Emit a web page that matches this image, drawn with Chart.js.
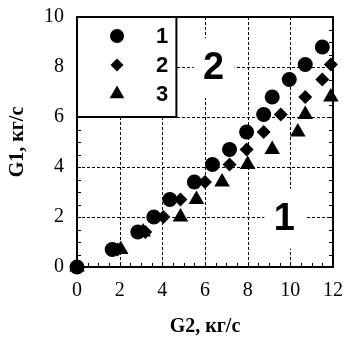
<!DOCTYPE html>
<html>
<head>
<meta charset="utf-8">
<script src="https://cdn.jsdelivr.net/npm/chart.js@4"></script>
<style>
  html, body { margin: 0; padding: 0; background: #fff; }
  #wrap { position: relative; width: 346px; height: 345px; }
</style>
</head>
<body>
<div id="wrap"><canvas id="chart"></canvas></div>
<script>
// ── DATA ─────────────────────────────────────────────────────────────────────

var seriesLabels = ['1', '2', '3'];

// series 1 (circles)
var s1X = [0, 1.65, 2.85, 3.6, 4.35, 5.5, 6.35, 7.15, 7.95, 8.75, 9.15, 9.95, 10.7, 11.5];
var s1Y = [0, 0.7, 1.4, 2.0, 2.7, 3.4, 4.1, 4.7, 5.4, 6.1, 6.8, 7.5, 8.1, 8.8];

// series 2 (diamonds)
var s2X = [0, 1.9, 3.2, 4.05, 4.85, 6.0, 7.15, 7.95, 8.75, 9.55, 10.7, 11.5, 11.9];
var s2Y = [0, 0.7, 1.4, 2.0, 2.7, 3.4, 4.1, 4.7, 5.4, 6.1, 6.8, 7.5, 8.1];

// series 3 (triangles)
var s3X = [0, 2.05, 3.1, 4.85, 5.6, 6.8, 8.0, 9.15, 10.35, 10.7, 11.9];
var s3Y = [0, 0.7, 1.4, 2.0, 2.7, 3.4, 4.1, 4.7, 5.4, 6.1, 6.8];

var xTicks = [0, 2, 4, 6, 8, 10, 12];
var yTicks = [0, 2, 4, 6, 8, 10];

// region numbers written inside the plot
var regionLabels = ['2', '1'];
var regionX = [6.4, 9.72];
var regionY = [8.0, 1.97];

var xTitle = 'G2, кг/с';
var yTitle = 'G1, кг/с';

// ── HELPERS ──────────────────────────────────────────────────────────────────

function pts(xs, ys) {
  var out = [];
  for (var i = 0; i < xs.length; i++) out.push({ x: xs[i], y: ys[i] });
  return out;
}

var markerStyles = ['circle', 'rectRot', 'triangle'];
var markerRadius = [7.5, 7, 9];

// ── OVERLAY PLUGIN: dotted grid, legend box, region numbers, inner ticks ─────

var overlay = {
  id: 'overlay',
  beforeDatasetsDraw: function(chart) {
    var ctx = chart.ctx, a = chart.chartArea;
    var xs = chart.scales.x, ys = chart.scales.y;
    ctx.save();

    // dotted grid at the labelled ticks
    ctx.strokeStyle = '#000';
    ctx.lineWidth = 1;
    ctx.setLineDash([3, 2]);
    ctx.beginPath();
    for (var gx = 1; gx < xTicks.length - 1; gx++) {
      var lx0 = Math.round(xs.getPixelForValue(xTicks[gx])) + 0.5;
      ctx.moveTo(lx0, a.top);
      ctx.lineTo(lx0, a.bottom);
    }
    for (var gy = 1; gy < yTicks.length - 1; gy++) {
      var ly0 = Math.round(ys.getPixelForValue(yTicks[gy])) + 0.5;
      ctx.moveTo(a.left, ly0);
      ctx.lineTo(a.right, ly0);
    }
    ctx.stroke();
    ctx.setLineDash([]);

    // white patches behind the region numbers (they break the grid)
    ctx.fillStyle = '#fff';
    for (var i = 0; i < regionLabels.length; i++) {
      var px = xs.getPixelForValue(regionX[i]);
      var py = ys.getPixelForValue(regionY[i]);
      ctx.fillRect(px - 20, py - 29, 41, 60);
    }

    // minor ticks, pointing inward
    ctx.strokeStyle = '#000';
    ctx.beginPath();
    for (var v = 0.5; v < 12; v += 0.5) {
      var tx = Math.round(xs.getPixelForValue(v)) + 0.5;
      ctx.moveTo(tx, a.bottom);
      ctx.lineTo(tx, a.bottom - 4);
    }
    for (var w = 0.5; w < 10; w += 0.5) {
      var ty = Math.round(ys.getPixelForValue(w)) + 0.5;
      ctx.moveTo(a.left, ty);
      ctx.lineTo(a.left + 4, ty);
      ctx.moveTo(a.right, ty);
      ctx.lineTo(a.right - 4, ty);
    }
    ctx.stroke();

    // legend box in the upper-left corner
    var lr = xs.getPixelForValue(4.66);
    var lb = ys.getPixelForValue(6.0);
    ctx.fillStyle = '#fff';
    ctx.fillRect(a.left, a.top, lr - a.left, lb - a.top);
    ctx.strokeStyle = '#000';
    ctx.lineWidth = 2;
    ctx.strokeRect(a.left, a.top, lr - a.left, lb - a.top);

    ctx.restore();
  },
  afterDatasetsDraw: function(chart) {
    var ctx = chart.ctx, a = chart.chartArea;
    var xs = chart.scales.x, ys = chart.scales.y;
    ctx.save();
    ctx.fillStyle = '#000';
    ctx.strokeStyle = '#000';

    // region numbers
    ctx.font = 'bold 38px "Liberation Sans", Arial, sans-serif';
    ctx.textAlign = 'center';
    ctx.textBaseline = 'middle';
    for (var i = 0; i < regionLabels.length; i++) {
      ctx.fillText(regionLabels[i], xs.getPixelForValue(regionX[i]), ys.getPixelForValue(regionY[i]) + 2);
    }

    // legend entries
    ctx.font = 'bold 22px "Liberation Sans", Arial, sans-serif';
    for (var k = 0; k < seriesLabels.length; k++) {
      var ry = a.top + 19 + k * 29;
      Chart.helpers.drawPoint(ctx, {
        pointStyle: markerStyles[k],
        radius: markerRadius[k] - 0.5,
        rotation: 0,
        borderWidth: 0
      }, a.left + 40, ry);
      ctx.fillText(seriesLabels[k], a.left + 85, ry + 1);
    }

    // outer frame
    ctx.lineWidth = 2;
    ctx.strokeRect(a.left, a.top, a.right - a.left, a.bottom - a.top);
    ctx.restore();
  }
};

// ── CHART ────────────────────────────────────────────────────────────────────

function draw() {
  var datasets = [];
  var allX = [s1X, s2X, s3X], allY = [s1Y, s2Y, s3Y];
  for (var d = 0; d < seriesLabels.length; d++) {
    datasets.push({
      label: seriesLabels[d],
      data: pts(allX[d], allY[d]),
      pointStyle: markerStyles[d],
      pointRadius: markerRadius[d],
      pointBorderWidth: 0,
      backgroundColor: '#000',
      borderColor: '#000',
      showLine: false,
      clip: false
    });
  }

  var tickFont = { family: '"Liberation Serif", "Times New Roman", serif', size: 20 };
  var titleFont = { family: '"Liberation Serif", "Times New Roman", serif', size: 20, weight: 'bold' };

  new Chart(document.getElementById('chart'), {
    type: 'scatter',
    data: { datasets: datasets },
    plugins: [overlay],
    options: {
      responsive: true,
      maintainAspectRatio: false,
      animation: false,
      layout: { padding: 0 },
      plugins: {
        legend: { display: false },
        tooltip: { enabled: false }
      },
      scales: {
        x: {
          type: 'linear',
          min: 0,
          max: 12,
          afterBuildTicks: function(scale) {
            scale.ticks = xTicks.map(function(v) { return { value: v }; });
          },
          // pin the plot box: 78px below it, 13px to its right
          afterFit: function(scale) {
            scale.height = 78;
            scale.paddingLeft = 0;
            scale.paddingRight = 13;
          },
          ticks: { color: '#000', font: tickFont, padding: 12, maxRotation: 0 },
          grid: { display: false, drawTicks: false },
          border: { display: true, color: '#000', width: 2 },
          title: { display: true, text: xTitle, color: '#000', font: titleFont, padding: { top: 0, bottom: 6 } }
        },
        y: {
          type: 'linear',
          min: 0,
          max: 10,
          afterBuildTicks: function(scale) {
            scale.ticks = yTicks.map(function(v) { return { value: v }; });
          },
          afterFit: function(scale) {
            scale.width = 77;
            scale.paddingTop = 17;
            scale.paddingBottom = 0;
          },
          ticks: { color: '#000', font: tickFont, padding: 13 },
          grid: { display: false, drawTicks: false },
          border: { display: true, color: '#000', width: 2 },
          title: { display: true, text: yTitle, color: '#000', font: titleFont, padding: { top: 6, bottom: 0 } }
        }
      }
    }
  });
}

// wait for the local fonts so the first layout uses the right metrics
Promise.all([
  document.fonts.load('20px "Liberation Serif"'),
  document.fonts.load('bold 20px "Liberation Serif"'),
  document.fonts.load('bold 38px "Liberation Sans"')
]).then(draw, draw);
</script>
</body>
</html>
